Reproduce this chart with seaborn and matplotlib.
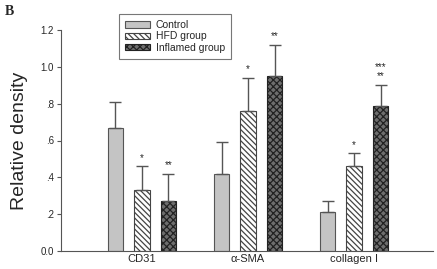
import matplotlib
matplotlib.use("Agg")
import matplotlib.pyplot as plt
import seaborn as sns
import pandas as pd
import numpy as np
from matplotlib.patches import Patch

categories = ["CD31", "α-SMA", "collagen I"]
groups = ["Control", "HFD group", "Inflamed group"]
control = [0.67, 0.42, 0.21]
control_err = [0.14, 0.17, 0.06]
hfd = [0.33, 0.76, 0.46]
hfd_err = [0.13, 0.18, 0.07]
inflamed = [0.27, 0.95, 0.79]
inflamed_err = [0.15, 0.17, 0.11]
stars_hfd = ["*", "*", "*"]
stars_inflamed = ["**", "**", "***\n**"]
yticks = [0.0, 0.2, 0.4, 0.6, 0.8, 1.0, 1.2]
yticklabels = ["0.0", ".2", ".4", ".6", ".8", "1.0", "1.2"]

sns.set_style("white")
plt.rcParams["font.family"] = ["Liberation Sans", "DejaVu Sans"]
plt.rcParams["hatch.linewidth"] = 0.9

rows = []
for i, c in enumerate(categories):
    rows.append((c, groups[0], control[i]))
    rows.append((c, groups[1], hfd[i]))
    rows.append((c, groups[2], inflamed[i]))
df = pd.DataFrame(rows, columns=["cat", "group", "val"])

fig = plt.figure(figsize=(4.37, 2.69), dpi=100)
ax = fig.add_axes([61/437, 1-251/269, (433-61)/437, (251-30)/269])

sns.barplot(data=df, x="cat", y="val", hue="group", order=categories,
            hue_order=groups, width=0.75, gap=0.4, errorbar=None, ax=ax,
            palette=["#c4c4c4", "white", "#6e6e6e"], edgecolor="#555555",
            linewidth=0.8, legend=False)

hatches = [None, "\\\\\\\\\\\\", "xxxxx"]
hatch_edges = ["#555555", "#444444", "#222222"]
errs = [control_err, hfd_err, inflamed_err]
vals = [control, hfd, inflamed]
bar_containers = list(ax.containers)
for gi, cont in enumerate(bar_containers):
    xs = []
    for bar in cont:
        if hatches[gi]:
            bar.set_hatch(hatches[gi])
            bar.set_edgecolor(hatch_edges[gi])
        xs.append(bar.get_x() + bar.get_width()/2)
    xs = np.array(xs)
    ax.errorbar(xs, vals[gi], yerr=[np.zeros(3), errs[gi]], fmt="none",
                ecolor="#555555", elinewidth=1.0, capsize=4, capthick=1.0)
    if gi == 1:
        for x, v, e, s in zip(xs, vals[gi], errs[gi], stars_hfd):
            ax.text(x, v + e + 0.02, s, ha="center", va="bottom", fontsize=7, linespacing=0.8)
    if gi == 2:
        for x, v, e, s in zip(xs, vals[gi], errs[gi], stars_inflamed):
            ax.text(x, v + e + 0.02, s, ha="center", va="bottom", fontsize=7, linespacing=0.9)

ax.set_xlim(-0.764, 2.745)
ax.set_ylim(0, 1.2)
ax.set_yticks(yticks)
ax.set_yticklabels(yticklabels, fontsize=7)
ax.tick_params(axis="y", length=3, width=0.8, color="#555555", pad=2, left=True)
ax.tick_params(axis="x", length=0, labelsize=8, pad=2)
ax.set_xlabel("")
ax.set_ylabel("Relative density", fontsize=14, labelpad=9)
for s in ["top", "right"]:
    ax.spines[s].set_visible(False)
for s in ["left", "bottom"]:
    ax.spines[s].set_color("#555555")
    ax.spines[s].set_linewidth(0.8)

handles = [Patch(facecolor="#c4c4c4", edgecolor="#555555", linewidth=0.8),
           Patch(facecolor="white", edgecolor="#444444", hatch="\\\\\\\\\\\\", linewidth=0.8),
           Patch(facecolor="#6e6e6e", edgecolor="#222222", hatch="xxxxx", linewidth=0.8)]
leg = fig.legend(handles, groups, loc="upper left", bbox_to_anchor=(119/437, 1-14/269),
                 fontsize=7.5, frameon=True, fancybox=False, handlelength=2.4,
                 handleheight=0.55, labelspacing=0.12, borderpad=0.6, handletextpad=0.55,
                 borderaxespad=0)
leg.get_frame().set_edgecolor("#555555")
leg.get_frame().set_linewidth(0.8)

fig.text(5/437, 1-15/269, "B", fontsize=10, fontweight="bold", family="Liberation Serif")

fig.savefig("out.png", dpi=100)
